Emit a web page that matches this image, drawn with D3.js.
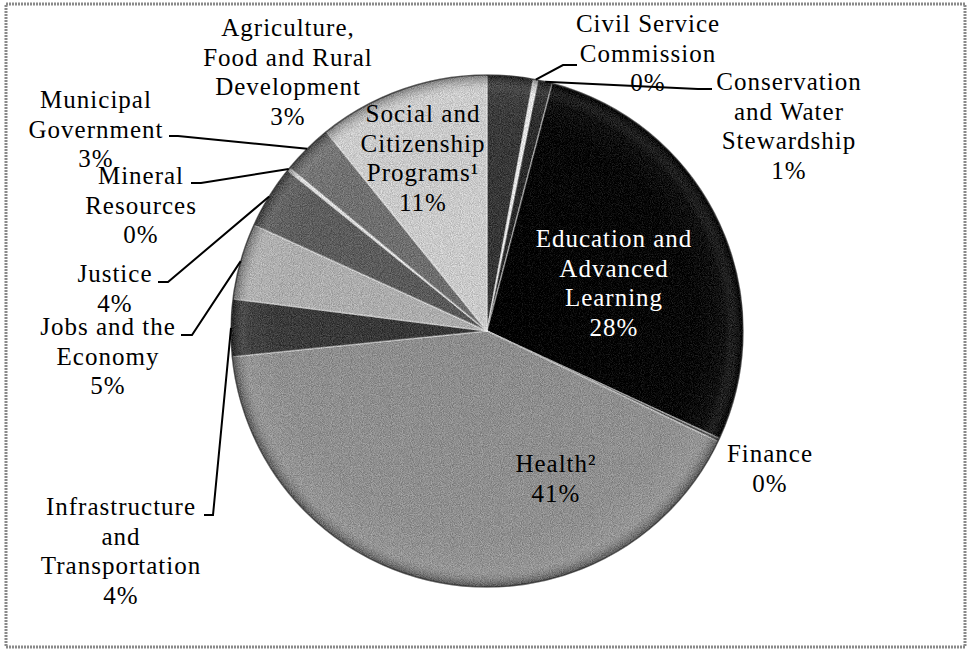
<!DOCTYPE html>
<html>
<head>
<meta charset="utf-8">
<script src="https://cdn.jsdelivr.net/npm/d3@7"></script>
<style>
  body { margin: 0; background: #fff; }
  svg { display: block; }
</style>
</head>
<body>
<div id="chart"></div>
<script>
// departments, clockwise from 12 o'clock
var categories = [
  "Agriculture, Food and Rural Development",
  "Civil Service Commission",
  "Conservation and Water Stewardship",
  "Education and Advanced Learning",
  "Finance",
  "Health",
  "Infrastructure and Transportation",
  "Jobs and the Economy",
  "Justice",
  "Mineral Resources",
  "Municipal Government",
  "Social and Citizenship Programs"
];
// share of total, percent
var shares = [2.9, 0.3, 0.9, 27.8, 0.2, 41.3, 3.6, 4.8, 4.0, 0.2, 3.2, 10.8];
// label text as printed on the chart
var labelLines = [
  ["Agriculture,", "Food and Rural", "Development"],
  ["Civil Service", "Commission"],
  ["Conservation", "and Water", "Stewardship"],
  ["Education and", "Advanced", "Learning"],
  ["Finance"],
  ["Health\u00b2"],
  ["Infrastructure", "and", "Transportation"],
  ["Jobs and the", "Economy"],
  ["Justice"],
  ["Mineral", "Resources"],
  ["Municipal", "Government"],
  ["Social and", "Citizenship", "Programs\u00b9"]
];

var sliceColors = ["#333333", "#e2e2e2", "#262626", "#000000", "#3c3c3c", "#8c8c8c",
                   "#353535", "#ababab", "#585858", "#d4d4d4", "#6c6c6c", "#c9c9c9"];

// label placement: centre x, first baseline, text colour, leader [start x, y, elbow x]
var labelLayout = [
  { x: 288, y: 36,  fill: "#000" },
  { x: 648, y: 32,  fill: "#000", leader: [577, 65, 563] },
  { x: 789, y: 90,  fill: "#000", leader: [712, 89, 698] },
  { x: 614, y: 247, fill: "#fff" },
  { x: 770, y: 462, fill: "#000" },
  { x: 556, y: 472, fill: "#000" },
  { x: 121, y: 515, fill: "#000", leader: [204, 515, 213] },
  { x: 108, y: 335, fill: "#000", leader: [181, 335, 192] },
  { x: 115, y: 282, fill: "#000", leader: [158, 282, 168] },
  { x: 141, y: 184, fill: "#000", leader: [191, 183, 201] },
  { x: 96,  y: 108, fill: "#000", leader: [169, 136, 178] },
  { x: 423, y: 122, fill: "#000" }
];

var width = 971, height = 651;
var cx = 487, cy = 331, radius = 256;
var lineH = 29.5;

var data = categories.map(function (c, i) {
  return { name: c, value: shares[i], color: sliceColors[i], lines: labelLines[i], lay: labelLayout[i] };
});

var svg = d3.select("#chart").append("svg")
    .attr("width", width)
    .attr("height", height)
    .attr("font-family", "'Liberation Serif', 'DejaVu Serif', serif")
    .attr("font-size", 25)
    .attr("letter-spacing", 1);

var defs = svg.append("defs");

// grainy print texture
var grain = defs.append("filter").attr("id", "grain")
    .attr("color-interpolation-filters", "sRGB")
    .attr("x", 0).attr("y", 0).attr("width", 1).attr("height", 1);
grain.append("feTurbulence").attr("type", "fractalNoise").attr("baseFrequency", 1.1)
    .attr("numOctaves", 1).attr("seed", 4).attr("result", "noise");
grain.append("feColorMatrix").attr("in", "noise").attr("type", "matrix")
    .attr("values", "1 0 0 0 0  1 0 0 0 0  1 0 0 0 0  0 0 0 0 1")
    .attr("result", "gray");
grain.append("feComposite").attr("in", "SourceGraphic").attr("in2", "gray")
    .attr("operator", "arithmetic")
    .attr("k1", 0).attr("k2", 1).attr("k3", 0.4).attr("k4", -0.2)
    .attr("result", "mixed");
grain.append("feComposite").attr("in", "mixed").attr("in2", "SourceGraphic").attr("operator", "in");

// rim shading for the bevelled look
var rim = defs.append("radialGradient").attr("id", "rim");
rim.append("stop").attr("offset", "0%").attr("stop-color", "#fff").attr("stop-opacity", 0);
rim.append("stop").attr("offset", "82%").attr("stop-color", "#fff").attr("stop-opacity", 0.03);
rim.append("stop").attr("offset", "93%").attr("stop-color", "#fff").attr("stop-opacity", 0.07);
rim.append("stop").attr("offset", "100%").attr("stop-color", "#000").attr("stop-opacity", 0.4);

// frame
svg.append("rect")
    .attr("x", 6).attr("y", 4)
    .attr("width", 959).attr("height", 643)
    .attr("fill", "none")
    .attr("stroke", "#8a8a8a")
    .attr("stroke-width", 3)
    .attr("stroke-dasharray", "2,1");

var pie = d3.pie().sort(null).value(function (d) { return d.value; });
var arcs = pie(data);

var arc = d3.arc().innerRadius(0).outerRadius(radius);
var edge = d3.arc().innerRadius(radius).outerRadius(radius);

var g = svg.append("g").attr("transform", "translate(" + cx + "," + cy + ")");

var slices = g.append("g").attr("filter", "url(#grain)");

slices.selectAll("path.slice")
    .data(arcs)
    .enter()
    .append("path")
    .attr("class", "slice")
    .attr("d", arc)
    .attr("fill", function (d) { return d.data.color; })
    .attr("stroke", "rgba(255,255,255,0.4)")
    .attr("stroke-width", 1.5)
    .attr("stroke-linejoin", "round");

slices.append("circle")
    .attr("r", radius)
    .attr("fill", "url(#rim)");

g.append("circle")
    .attr("r", radius)
    .attr("fill", "none")
    .attr("stroke", "rgba(0,0,0,0.55)")
    .attr("stroke-width", 1.5);

// leader lines, ending at the slice's mid angle on the rim
svg.append("g").selectAll("polyline")
    .data(arcs.filter(function (d) { return d.data.lay.leader; }))
    .enter()
    .append("polyline")
    .attr("points", function (d) {
      var l = d.data.lay.leader;
      var p = edge.centroid(d);
      return [[l[0], l[1]], [l[2], l[1]], [cx + p[0], cy + p[1]]].join(" ");
    })
    .attr("fill", "none")
    .attr("stroke", "#000")
    .attr("stroke-width", 2);

// labels
var labels = svg.append("g").selectAll("text")
    .data(arcs)
    .enter()
    .append("text")
    .attr("text-anchor", "middle")
    .attr("fill", function (d) { return d.data.lay.fill; });

labels.each(function (d) {
  var t = d3.select(this);
  var rows = d.data.lines.concat([Math.round(d.data.value) + "%"]);
  rows.forEach(function (r, i) {
    t.append("tspan")
        .attr("x", d.data.lay.x)
        .attr("y", d.data.lay.y + i * lineH)
        .text(r);
  });
});
</script>
</body>
</html>
